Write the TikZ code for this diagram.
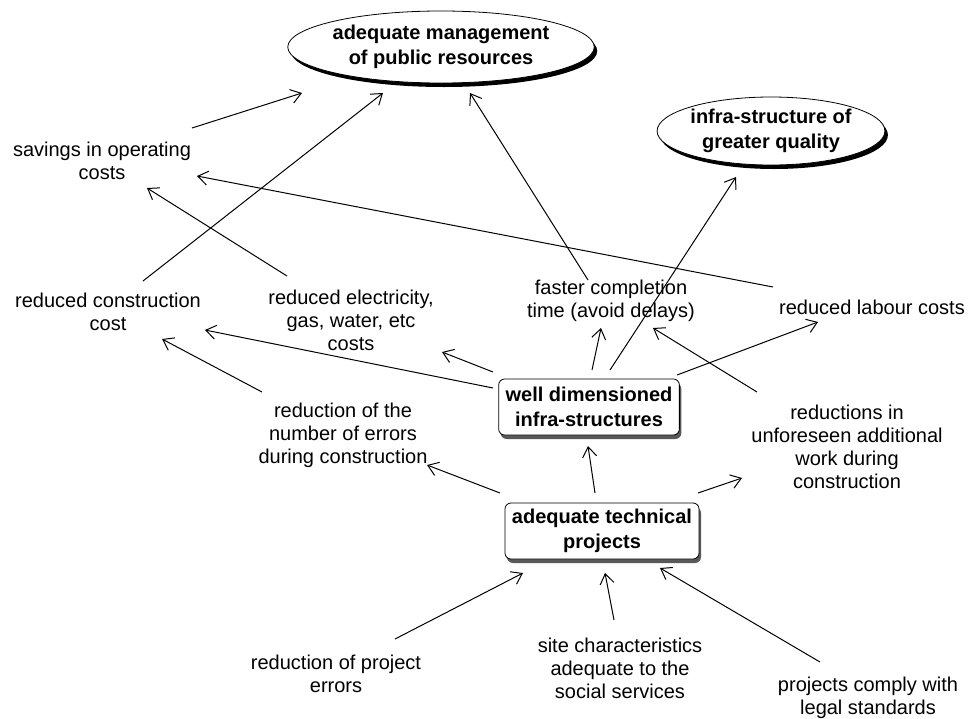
\documentclass[tikz,border=0pt]{standalone}
\usepackage{fontspec}
\setmainfont{Liberation Sans}
\usepackage{tikz}
\usetikzlibrary{arrows.meta}
\usetikzlibrary{shapes.geometric}
\usetikzlibrary{shadows}
\tikzset{
	concept/.style={draw=black, fill=white, ellipse, inner sep=0pt, align=center,
		font=\fontsize{10}{12.5}\selectfont\bfseries,
		drop shadow={shadow xshift=1.5pt, shadow yshift=-2pt, fill=black, opacity=1}},
	box/.style={draw=black, fill=white, rounded corners=3pt, inner xsep=3.5pt, inner ysep=3pt,
		minimum height=28pt, align=center, font=\fontsize{10}{12.5}\selectfont\bfseries,
		drop shadow={shadow xshift=1pt, shadow yshift=-2pt, fill=black!65, opacity=1}},
	txt/.style={align=center, inner sep=0pt},
	link/.style={draw=black, line width=0.5pt, -{Straight Barb[length=5pt,width=7pt]}},
}

\begin{document}
\begin{tikzpicture}[x=0.5pt, y=-0.5pt, font=\fontsize{10}{11.5}\selectfont]
		\useasboundingbox (0,0) rectangle (968,718);
		% Goals
		\node [concept, minimum width=148pt, minimum height=36pt] (res) at (441, 47) {adequate management\\of public resources};
		\node [concept, minimum width=111pt, minimum height=34pt] (qual) at (771, 131) {infra-structure of\\greater quality};
		% Central boxes
		\node [box] (well) at (589, 407) {well dimensioned\\infra-structures};
		\node [box] (tech) at (602, 531) {adequate technical\\projects};
		% Effects
		\node [txt] (sav) at (102, 161) {savings in operating\\costs};
		\node [txt] (cons) at (108, 312) {reduced construction\\cost};
		\node [txt] (elec) at (351, 320) {reduced electricity,\\gas, water, etc\\costs};
		\node [txt] (fast) at (611, 301) {faster completion\\time (avoid delays)};
		\node [txt] (lab) at (872, 307) {reduced labour costs};
		\node [txt] (errs) at (343, 435) {reduction of the\\number of errors\\during construction};
		\node [txt] (unf) at (847, 447) {reductions in\\unforeseen additional\\work during\\construction};
		% Causes
		\node [txt] (perr) at (336, 674) {reduction of project\\errors};
		\node [txt] (site) at (620, 668) {site characteristics\\adequate to the\\social services};
		\node [txt] (legal) at (868, 698) {projects comply with\\legal standards};
		% Arrows to the goals
		\draw [link] ([shift={(90,-33)}]sav.center) -- ([shift={(-139,46)}]res.center);
		\draw [link] ([shift={(35,-31)}]cons.center) -- ([shift={(-58,46)}]res.center);
		\draw [link] ([shift={(-23,-21)}]fast.center) -- ([shift={(29,46)}]res.center);
		\draw [link] ([shift={(-99,-20)}]lab.center) -- ([shift={(95,15)}]sav.center);
		\draw [link] ([shift={(-64,-44)}]elec.center) -- ([shift={(45,27)}]sav.center);
		\draw [link] ([shift={(-81,-43)}]errs.center) -- ([shift={(54,27)}]cons.center);
		\draw [link] ([shift={(-90,-55)}]unf.center) -- ([shift={(42,27)}]fast.center);
		% Arrows from well dimensioned infra-structures
		\draw [link] ([shift={(-96,-19)}]well.center) -- ([shift={(97,18)}]cons.center);
		\draw [link] ([shift={(-96,-35)}]well.center) -- ([shift={(91,32)}]elec.center);
		\draw [link] ([shift={(3,-37)}]well.center) -- ([shift={(-10,27)}]fast.center);
		\draw [link] ([shift={(21,-37)}]well.center) -- ([shift={(-35,46)}]qual.center);
		\draw [link] ([shift={(88,-32)}]well.center) -- ([shift={(-54,15)}]lab.center);
		% Arrows from adequate technical projects
		\draw [link] ([shift={(-102,-38)}]tech.center) -- ([shift={(84,30)}]errs.center);
		\draw [link] ([shift={(-7,-38)}]tech.center) -- ([shift={(-1,39)}]well.center);
		\draw [link] ([shift={(96,-38)}]tech.center) -- ([shift={(-105,31)}]unf.center);
		% Causes
		\draw [link] ([shift={(59,-35)}]perr.center) -- ([shift={(-79,42)}]tech.center);
		\draw [link] ([shift={(-6,-48)}]site.center) -- ([shift={(3,42)}]tech.center);
		\draw [link] ([shift={(-48,-36)}]legal.center) -- ([shift={(58,37)}]tech.center);
\end{tikzpicture}
\end{document}
